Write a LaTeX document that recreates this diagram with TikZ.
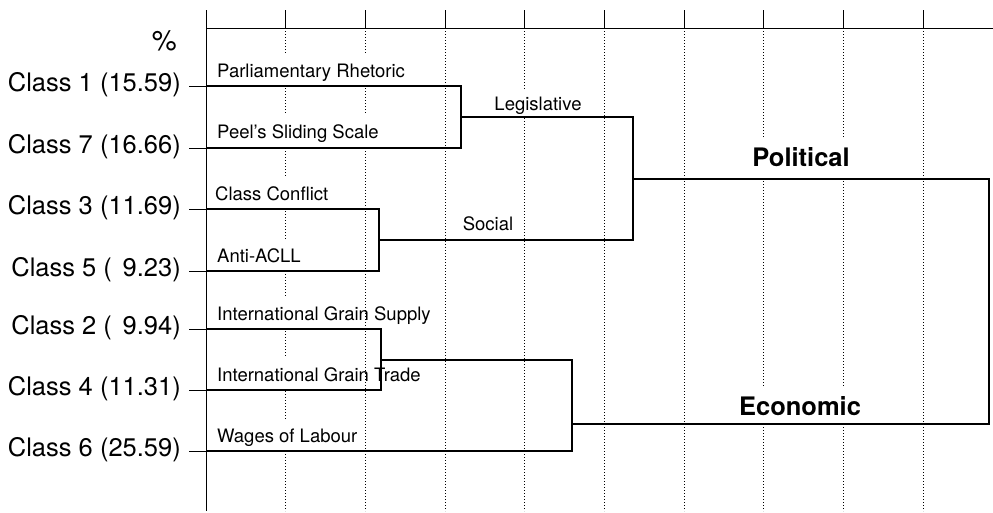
\documentclass[tikz,border=0pt]{standalone}
\usepackage{fontspec}
\setmainfont{TeX Gyre Heros}
\begin{document}
\begin{tikzpicture}[x=1pt,y=-1pt,
  axisline/.style={line width=0.8pt},
  dend/.style={line width=2pt, line join=miter},
  griddot/.style={line width=0.7pt, dash pattern=on 0.7pt off 2.3pt},
  cls/.style={font=\fontsize{25.5}{30}\selectfont, anchor=base east, inner sep=0pt},
  lab/.style={font=\fontsize{18.5}{22}\selectfont, anchor=base west, fill=white, inner xsep=2pt, inner ysep=0pt, text height=23pt, text depth=8pt},
  labc/.style={font=\fontsize{18.5}{22}\selectfont, anchor=base, fill=white, inner xsep=2pt, inner ysep=0pt, text height=20pt, text depth=7pt},
  grp/.style={font=\bfseries\fontsize{25.5}{30}\selectfont, anchor=base, fill=white, inner xsep=6pt, inner ysep=0pt, text height=28pt, text depth=10pt}]
\useasboundingbox (0,0) rectangle (993,512);

% grid
\foreach \k in {1,...,9}{
  \coordinate (gt\k) at ({206+79.68*\k},28);
  \coordinate (gb\k) at ({206+79.68*\k},511);
  \draw[griddot] (gt\k) -- (gb\k);
}
% axes
\coordinate (axtop) at (206,10);
\coordinate (axbot) at (206,511);
\coordinate (hl) at (206,28);
\coordinate (hr) at (993,28);
\draw[axisline] (axtop) -- (axbot);
\draw[axisline] (hl) -- (hr);
\foreach \k in {1,...,9}{
  \coordinate (tk\k) at ({206+79.68*\k},10);
  \draw[axisline] (tk\k) -- (gt\k);
}

% percent sign
\node[cls, font=\fontsize{28}{32}\selectfont] (pct) at (177,50) {\%};

% class labels and stubs
\foreach \n/\y/\t in {1/86/{Class 1 (15.59)},7/148/{Class 7 (16.66)},3/209/{Class 3 (11.69)},5/271/{Class 5 (\hspace{0.42em}9.23)},2/329/{Class 2 (\hspace{0.42em}9.94)},4/390/{Class 4 (11.31)},6/451/{Class 6 (25.59)}}{
  \node[cls] (l\n) at (181,\y+5.5) {\t};
  \coordinate (s\n) at (189,\y);
  \coordinate (c\n) at (206,\y);
  \draw[axisline] (s\n) -- (c\n);
}

% branch labels
\node[lab] (tpr) at (215,77) {Parliamentary Rhetoric};
\node[lab] (tps) at (215,138) {Peel’s Sliding Scale};
\node[lab] (tcc) at (213,200) {Class Conflict};
\node[lab] (taa) at (215,262) {Anti-ACLL};
\node[lab] (tgs) at (215,320) {International Grain Supply};
\node[lab] (tgt) at (215,381) {International Grain Trade};
\node[lab] (twl) at (215,442) {Wages of Labour};
\draw[griddot] (gt2 |- 0,292) -- (gt2 |- 0,389);
\node[labc] (tleg) at (538,110) {Legislative};
\node[labc, fill=none] (tsoc) at (488,230) {Social};
\node[grp] (tpol) at (801,166) {Political};
\node[grp] (teco) at (800,415) {Economic};

% dendrogram
\coordinate (j17) at (461,117);
\coordinate (j35) at (379,240);
\coordinate (j24) at (381,359.5);
\coordinate (jls) at (633,178.5);
\coordinate (j246) at (572,424);
\coordinate (root) at (989,301);
\draw[dend] (c1) -| (j17) |- (c7);
\draw[dend] (c3) -| (j35) |- (c5);
\draw[dend] (c2) -| (j24) |- (c4);
\draw[dend] (j17) -| (jls) |- (j35);
\draw[dend] (j24) -| (j246) |- (c6);
\draw[dend] (jls) -| (root) |- (j246);
\end{tikzpicture}
\end{document}
